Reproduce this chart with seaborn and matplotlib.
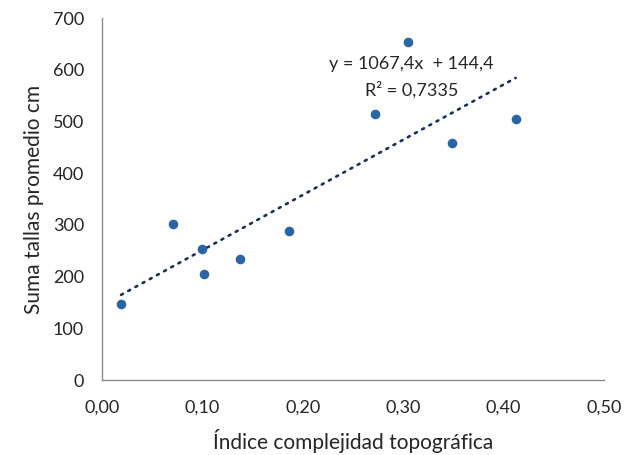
import numpy as np
import pandas as pd
import matplotlib
matplotlib.use("Agg")
import matplotlib.pyplot as plt
import seaborn as sns
from matplotlib.ticker import FuncFormatter

# Datos
indice = [0.019, 0.071, 0.0996, 0.102, 0.137, 0.186, 0.272, 0.305, 0.349, 0.412]
suma_tallas = [147, 302, 253, 205, 234, 288, 514, 654, 458, 505]

# Línea de tendencia (ecuación mostrada)
pendiente = 1067.4
intercepto = 144.4
texto_ecuacion = "y = 1067,4x  + 144,4"
texto_r2 = "R² = 0,7335"

df = pd.DataFrame({"x": indice, "y": suma_tallas})

sns.set_style("white")
plt.rcParams["font.family"] = ["Lato", "DejaVu Sans"]

fig = plt.figure(figsize=(6.25, 4.55), dpi=100)
ax = fig.add_axes([0.1632, 0.1648, 0.8032, 0.7956])

sns.scatterplot(data=df, x="x", y="y", ax=ax, color="#2a64a4",
                s=48, edgecolor="#2a64a4", linewidth=0, zorder=3)

xt = np.array([min(indice), max(indice)])
ax.plot(xt, pendiente * xt + intercepto, color="#1c2f5c", lw=1.9,
        linestyle=(0, (0.8, 2.3)), dash_capstyle="round", zorder=2)

ax.text(0.308, 611, texto_ecuacion, ha="center", va="center",
        fontsize=13, color="#262626")
ax.text(0.308, 561, texto_r2, ha="center", va="center",
        fontsize=13, color="#262626")

ax.set_xlim(0, 0.5)
ax.set_ylim(0, 700)
ax.set_xticks(np.arange(0, 0.51, 0.1))
ax.set_yticks(range(0, 701, 100))
ax.xaxis.set_major_formatter(FuncFormatter(lambda v, p: f"{v:.2f}".replace(".", ",")))
ax.tick_params(axis="both", length=0, labelsize=13, labelcolor="#262626")
ax.tick_params(axis="y", pad=13)
ax.tick_params(axis="x", pad=14)

ax.set_xlabel("Índice complejidad topográfica", fontsize=15, color="#262626", labelpad=10)
ax.set_ylabel("Suma tallas promedio cm", fontsize=15, color="#262626", labelpad=6)

sns.despine(ax=ax)
for s in ["left", "bottom"]:
    ax.spines[s].set_color("#8c8c8c")
    ax.spines[s].set_linewidth(1.0)

fig.savefig("out.png", dpi=100)
